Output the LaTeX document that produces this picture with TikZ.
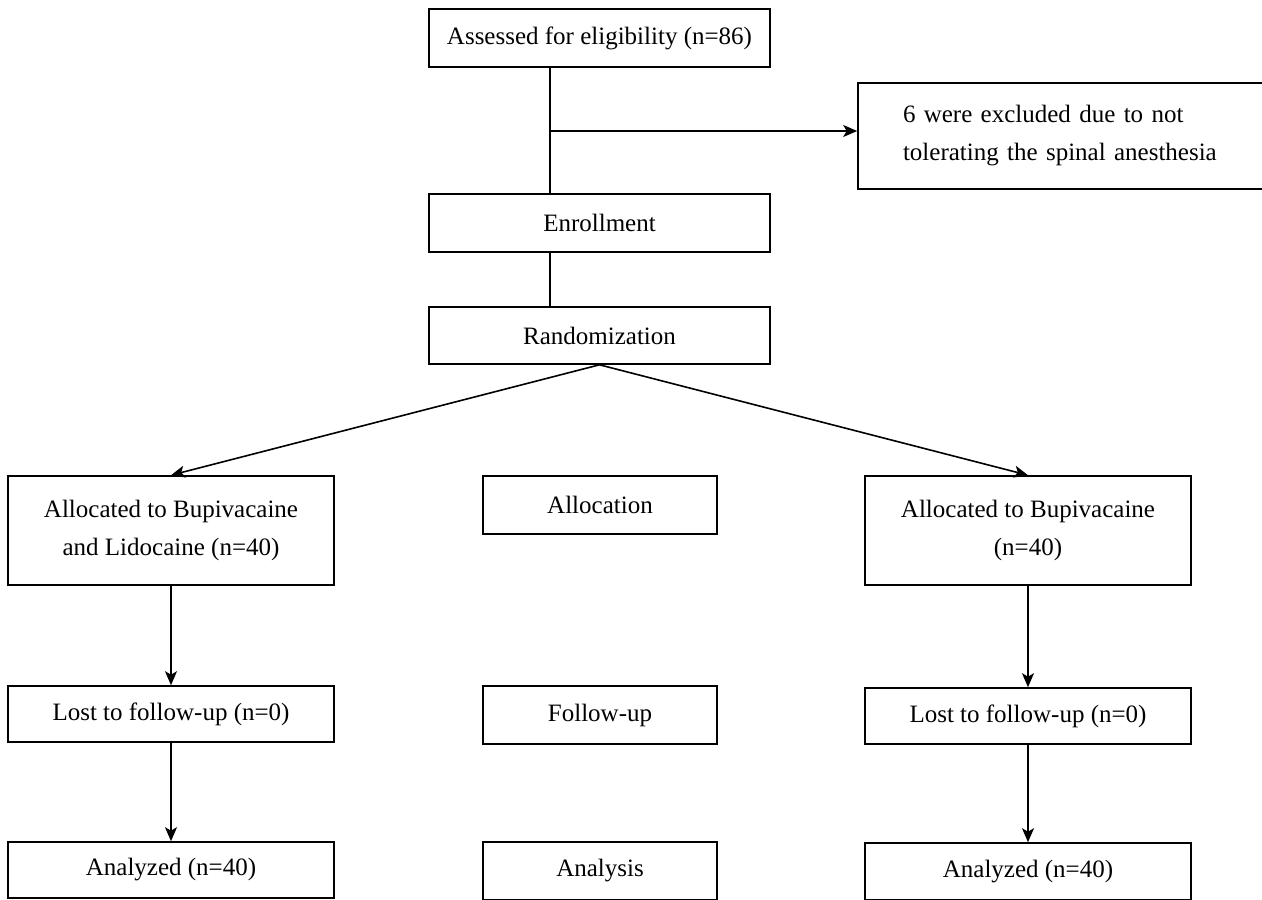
\documentclass[tikz,border=0pt]{standalone}
\usepackage{fontspec}
\setmainfont{Liberation Serif}
\usetikzlibrary{arrows.meta}
\begin{document}
\begin{tikzpicture}[x=1pt,y=-1pt,
  box/.style={draw, line width=1.6pt, inner sep=0pt, font=\fontsize{25}{38}\selectfont, align=center},
  arr/.style={-{Stealth[length=14pt,width=12pt,inset=3.5pt]}, line width=1.6pt},
  ln/.style={line width=1.6pt}]
\useasboundingbox (0,0) rectangle (1262,900);
\clip (0,0) rectangle (1262,900);
\node[box, minimum width=341pt, minimum height=58pt] (assess) at (599.5,38) {Assessed for eligibility (n=86)};
\node[box, align=left, text width=322pt, inner xsep=45pt, minimum height=106pt] (excl) at (1064,136) {6 were excluded due to not\\tolerating the spinal anesthesia};
\node[box, minimum width=341pt, minimum height=58pt] (enroll) at (599.5,223) {Enrollment};
\node[box, minimum width=341pt, minimum height=57pt] (random) at (599.5,335.5) {Randomization};
\node[box, minimum width=326pt, minimum height=109pt] (allocL) at (171,530.5) {Allocated to Bupivacaine\\and Lidocaine (n=40)};
\node[box, minimum width=234pt, minimum height=58pt] (alloc) at (600,505) {Allocation};
\node[box, minimum width=326pt, minimum height=109pt] (allocR) at (1028,530.5) {Allocated to Bupivacaine\\(n=40)};
\node[box, minimum width=326pt, minimum height=56pt] (lostL) at (171,714) {Lost to follow-up (n=0)};
\node[box, minimum width=234pt, minimum height=58pt] (follow) at (600,715) {Follow-up};
\node[box, minimum width=326pt, minimum height=56pt] (lostR) at (1028,716) {Lost to follow-up (n=0)};
\node[box, minimum width=326pt, minimum height=56pt] (anaL) at (171,870) {Analyzed (n=40)};
\node[box, minimum width=234pt, minimum height=58pt] (analysis) at (600,871) {Analysis};
\node[box, minimum width=326pt, minimum height=57pt] (anaR) at (1028,871.5) {Analyzed (n=40)};
\coordinate (vx) at (550,131);
\draw[ln] (assess.south -| vx) -- (enroll.north -| vx);
\draw[arr] (vx) -- (excl.west |- vx);
\draw[ln] (enroll.south -| vx) -- (random.north -| vx);
\draw[arr] (random.south) -- (allocL.north);
\draw[arr] (random.south) -- (allocR.north);
\draw[arr] (allocL) -- (lostL);
\draw[arr] (lostL) -- (anaL);
\draw[arr] (allocR) -- (lostR);
\draw[arr] (lostR) -- (anaR);
\end{tikzpicture}
\end{document}
